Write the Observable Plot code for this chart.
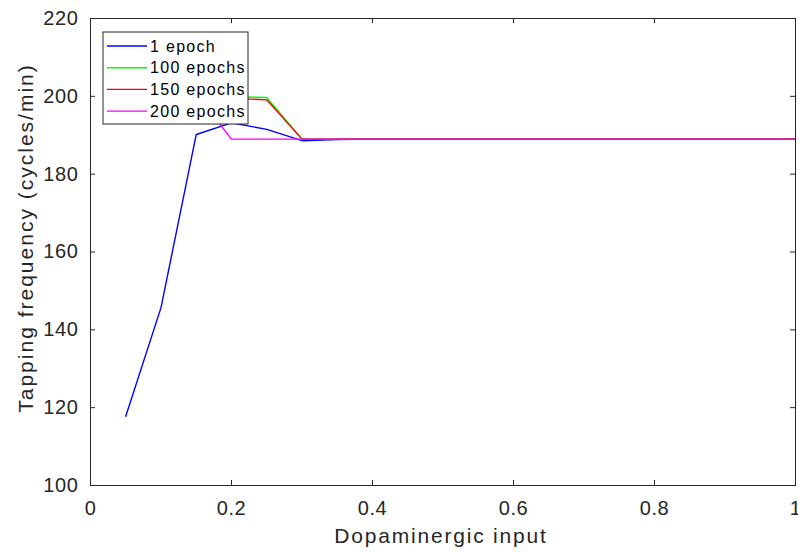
<!DOCTYPE html>
<html>
<head>
<meta charset="utf-8">
<script src="https://cdn.jsdelivr.net/npm/d3@7"></script>
<script src="https://cdn.jsdelivr.net/npm/@observablehq/plot@0.6"></script>
<style>
  html, body { margin: 0; padding: 0; background: #fff; }
  #chart { width: 798px; height: 552px; }
</style>
</head>
<body>
<div id="chart"></div>
<script>
const xValues = [0.05, 0.1, 0.15, 0.2, 0.25, 0.3, 0.35, 0.4, 0.45, 0.5, 0.55, 0.6, 0.65, 0.7, 0.75, 0.8, 0.85, 0.9, 0.95, 1.0];
const epoch1   = [117.8, 145.7, 190.2, 193.2, 191.5, 188.6, 188.9, 189, 189, 189, 189, 189, 189, 189, 189, 189, 189, 189, 189, 189];
const epoch100 = [200.5, 200.5, 200.3, 199.9, 199.7, 189, 189, 189, 189, 189, 189, 189, 189, 189, 189, 189, 189, 189, 189, 189];
const epoch150 = [200.2, 200.2, 200.0, 199.5, 199.1, 189, 189, 189, 189, 189, 189, 189, 189, 189, 189, 189, 189, 189, 189, 189];
const epoch200 = [200.8, 200.8, 200.6, 189, 189, 189, 189, 189, 189, 189, 189, 189, 189, 189, 189, 189, 189, 189, 189, 189];
const seriesNames = ["1 epoch", "100 epochs", "150 epochs", "200 epochs"];
const seriesColors = ["#0000ff", "#00ff00", "#ff0000", "#ff00ff"];
const xTicks = [0, 0.2, 0.4, 0.6, 0.8, 1];
const yTicks = [100, 120, 140, 160, 180, 200, 220];

const allSeries = [epoch1, epoch100, epoch150, epoch200];
const data = [];
allSeries.forEach((vals, i) => {
  vals.forEach((v, j) => data.push({x: xValues[j], y: v, s: seriesNames[i]}));
});

const W = 798, H = 552;
const mL = 90, mR = 3, mT = 18, mB = 67;
const innerW = W - mL - mR, innerH = H - mT - mB;
const tickLen = 5;
const axisColor = "#262626";
const font = "'Liberation Sans', Arial, Helvetica, sans-serif";

const plot = Plot.plot({
  width: W, height: H,
  marginLeft: mL, marginRight: mR, marginTop: mT, marginBottom: mB,
  style: {fontFamily: font, background: "#fff", color: axisColor},
  x: {domain: [0, 1], ticks: xTicks, label: null},
  y: {domain: [100, 220], ticks: yTicks, label: null},
  color: {domain: seriesNames, range: seriesColors},
  marks: [
    Plot.axisX(xTicks, {tickSize: 0, tickPadding: 15, fontSize: 20, tickFormat: d => String(d), fill: axisColor, label: null}),
    Plot.axisY(yTicks, {tickSize: 0, tickPadding: 12, fontSize: 20, fill: axisColor, label: null}),
    // inward ticks, bottom and top
    Plot.tickX(xTicks, {x: d => d, insetTop: innerH - tickLen, stroke: axisColor, strokeWidth: 1}),
    Plot.tickX(xTicks, {x: d => d, insetBottom: innerH - tickLen, stroke: axisColor, strokeWidth: 1}),
    // inward ticks, left and right
    Plot.tickY(yTicks, {y: d => d, insetRight: innerW - tickLen, stroke: axisColor, strokeWidth: 1}),
    Plot.tickY(yTicks, {y: d => d, insetLeft: innerW - tickLen, stroke: axisColor, strokeWidth: 1}),
    Plot.line(data, {x: "x", y: "y", z: "s", stroke: "s", strokeWidth: 1.4}),
    Plot.frame({stroke: axisColor, strokeWidth: 1})
  ]
});

const svg = d3.select(plot);
svg.selectAll("g[aria-label='x-axis tick label'] text, g[aria-label='y-axis tick label'] text")
  .style("letter-spacing", "0.6px");

// axis titles
svg.append("text")
  .attr("x", 441).attr("y", 543)
  .attr("text-anchor", "middle")
  .style("letter-spacing", "1.8px")
  .attr("font-family", font).attr("font-size", 21).attr("fill", axisColor)
  .text("Dopaminergic input");
svg.append("text")
  .attr("transform", `translate(33,238) rotate(-90)`)
  .attr("text-anchor", "middle")
  .style("letter-spacing", "2px")
  .attr("font-family", font).attr("font-size", 21).attr("fill", axisColor)
  .text("Tapping frequency (cycles/min)");

// legend
const lg = svg.append("g").attr("transform", "translate(103,32)");
lg.append("rect").attr("width", 145).attr("height", 92)
  .attr("fill", "#fff").attr("stroke", "#262626").attr("stroke-width", 1);
seriesNames.forEach((name, i) => {
  const yy = 14 + i * 21.7;
  lg.append("line").attr("x1", 4).attr("x2", 44).attr("y1", yy).attr("y2", yy)
    .attr("stroke", seriesColors[i]).attr("stroke-width", 1.4);
  lg.append("text").attr("x", 47).attr("y", yy).attr("dy", "0.35em")
    .attr("text-anchor", "start")
    .style("letter-spacing", "1.3px")
    .attr("font-family", font).attr("font-size", 16).attr("fill", "#000")
    .text(name);
});

document.getElementById("chart").appendChild(plot);
</script>
</body>
</html>
